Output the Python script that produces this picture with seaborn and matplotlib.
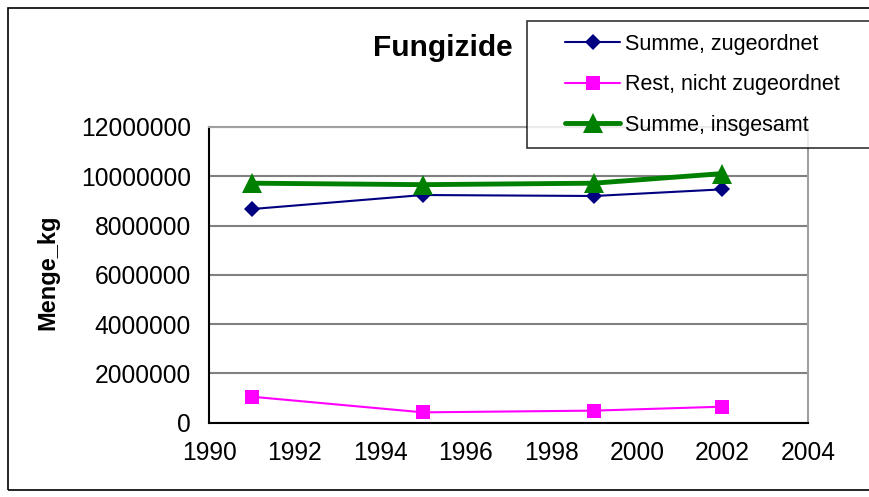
import numpy as np
import pandas as pd
import matplotlib
matplotlib.use("Agg")
import matplotlib.pyplot as plt
import seaborn as sns
from matplotlib.patches import Rectangle
from matplotlib.legend_handler import HandlerLine2D

# data
jahre = [1991, 1995, 1999, 2002]
summe_zugeordnet = [8670000, 9240000, 9200000, 9470000]
rest_nicht_zugeordnet = [1055000, 420000, 490000, 650000]
summe_insgesamt = [9720000, 9660000, 9720000, 10110000]

serien = ["Summe, zugeordnet", "Rest, nicht zugeordnet", "Summe, insgesamt"]
x_ticks = list(range(1990, 2005, 2))
y_ticks = list(range(0, 12000001, 2000000))

df = pd.DataFrame({
    "Jahr": jahre * 3,
    "Menge_kg": summe_zugeordnet + rest_nicht_zugeordnet + summe_insgesamt,
    "Serie": [s for s in serien for _ in jahre],
})


class ShiftedLine(HandlerLine2D):
    # leaves an empty gap in front of the legend handle, like the Excel legend
    def create_artists(self, legend, orig_handle, xdescent, ydescent,
                       width, height, fontsize, trans):
        gap = 18.5
        return super().create_artists(legend, orig_handle, xdescent - gap, ydescent,
                                      width - gap, height, fontsize, trans)


sns.set_style("white")
plt.rcParams["font.family"] = ["Liberation Sans", "DejaVu Sans"]
plt.rcParams["text.color"] = "black"

fig = plt.figure(figsize=(8.69, 4.97), dpi=100)
ax = fig.add_axes([209 / 869, 1 - 422.7 / 497, (808 - 209) / 869, (422.7 - 127) / 497])

styles = {
    "Summe, zugeordnet": dict(color="#000080", marker="D", markersize=8, linewidth=1.5),
    "Rest, nicht zugeordnet": dict(color="#FF00FF", marker="s", markersize=10, linewidth=1.5),
    "Summe, insgesamt": dict(color="#008000", marker="^", markersize=15, linewidth=3.5),
}
for name in serien:
    st = styles[name]
    sns.lineplot(data=df[df["Serie"] == name], x="Jahr", y="Menge_kg", ax=ax,
                 label=name, color=st["color"], marker=st["marker"],
                 markersize=st["markersize"], linewidth=st["linewidth"],
                 markeredgecolor=st["color"], markeredgewidth=0, zorder=3)

ax.set_xlim(1990, 2004)
ax.set_ylim(0, 12000000)
ax.set_xticks(x_ticks)
ax.set_yticks(y_ticks)
ax.set_yticklabels([str(v) for v in y_ticks])
ax.yaxis.grid(True, color="#808080", linewidth=1.5)
ax.xaxis.grid(False)
ax.tick_params(axis="both", labelsize=17.7, labelcolor="black", colors="black",
               direction="out", length=7, width=1.2, pad=6)
ax.tick_params(axis="y", color="#808080")
ax.set_xlabel("")
ax.set_ylabel("")
for side in ["left", "bottom"]:
    ax.spines[side].set_color("black")
    ax.spines[side].set_linewidth(1.5)
for side in ["top", "right"]:
    ax.spines[side].set_color("#A0A0A0")
    ax.spines[side].set_linewidth(1.5)

fig.text(443 / 869, 1 - 48 / 497, "Fungizide", fontsize=21.5, fontweight="bold",
         color="black", ha="center", va="center")
fig.text(48 / 869, 1 - 272 / 497, "Menge_kg", fontsize=17, fontweight="bold",
         color="black", rotation=90, ha="center", va="center")

handles, labels = ax.get_legend_handles_labels()
leg = ax.legend(handles, labels, loc="lower left", mode="expand",
                bbox_to_anchor=(527 / 869, 1 - 148 / 497, 360 / 869, 128 / 497),
                bbox_transform=fig.transFigure, fontsize=15.5, frameon=True,
                fancybox=False, edgecolor="black", handlelength=3.74,
                handletextpad=0.23, labelspacing=0.9, borderpad=0.58,
                borderaxespad=0, handler_map={h: ShiftedLine() for h in handles})
leg.get_frame().set_linewidth(1.2)
leg.get_frame().set_facecolor("white")
leg.set_zorder(10)
for t in leg.get_texts():
    t.set_color("black")

fig.patches.append(Rectangle((8 / 869, 1 - 490 / 497), 1.0, (490 - 8) / 497,
                             transform=fig.transFigure, fill=False,
                             edgecolor="black", linewidth=1.2))

fig.savefig("out.png", dpi=100)
